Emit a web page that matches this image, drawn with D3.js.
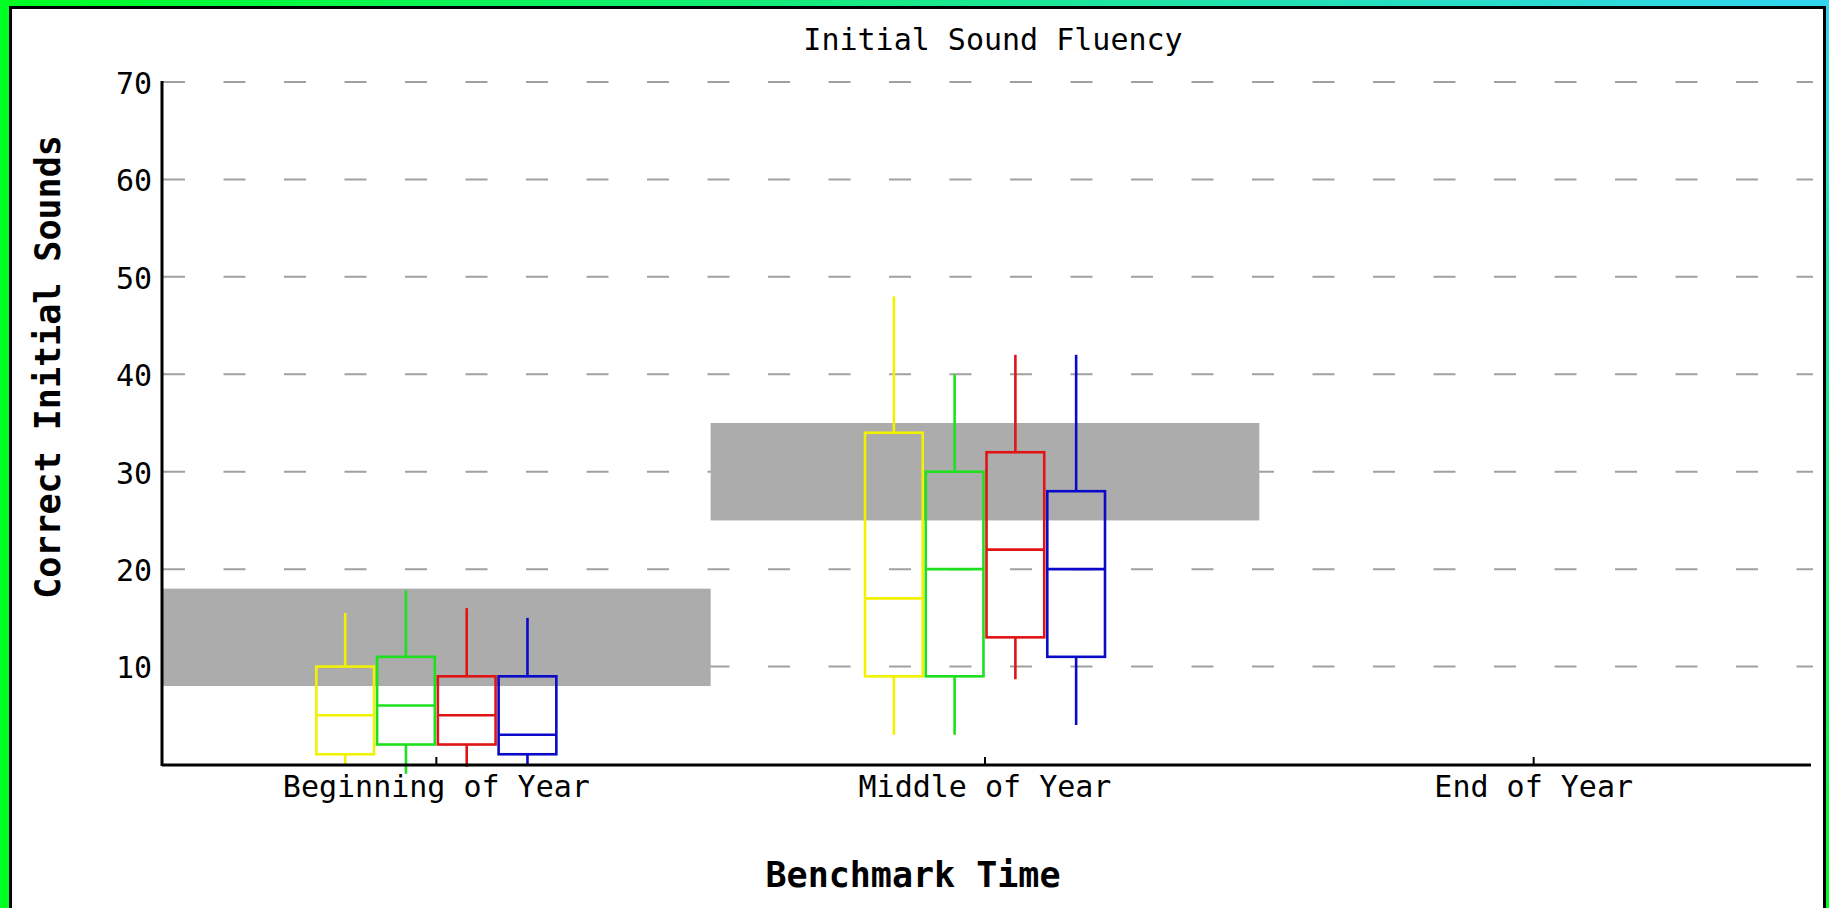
<!DOCTYPE html>
<html>
<head>
  <title>Initial Sound Fluency</title>
  <style>
    html, body {
      margin: 0;
      padding: 0;
      width: 100%;
      height: 100%;
      overflow: hidden;
      background: #fff;
    }
    .txt {
      font-family: "DejaVu Sans Mono", "Liberation Mono", monospace;
      fill: #000;
    }
  </style>
  <script src="https://d3js.org/d3.v7.min.js"></script>
</head>
<body>
  <div id="chart-container"></div>

  <script>
    // benchmark periods on the x axis
    const periods = ["Beginning of Year", "Middle of Year", "End of Year"];
    const yTicks = [10, 20, 30, 40, 50, 60, 70];

    // target range (grey band) for each period
    const targetLow = [8, 25, null];
    const targetHigh = [18, 35, null];

    // four groups, one colour each; stats are [beginning, middle, end]
    const groups = ["Group 1", "Group 2", "Group 3", "Group 4"];
    const groupColors = ["#f2f200", "#1ee01e", "#e01414", "#0a0ac8"];
    const lowValues    = [[0, 3, null],    [-1, 3, null],  [-0.3, 8.7, null], [0, 4, null]];
    const q1Values     = [[1, 9, null],    [2, 9, null],   [2, 13, null],     [1, 11, null]];
    const medianValues = [[5, 17, null],   [6, 20, null],  [5, 22, null],     [3, 20, null]];
    const q3Values     = [[10, 34, null],  [11, 30, null], [9, 32, null],     [9, 28, null]];
    const highValues   = [[15.5, 48, null],[17.8, 40, null],[16, 42, null],   [15, 42, null]];

    const width = 1829;
    const height = 908;
    const plotLeft = 162, plotRight = 1808, plotTop = 82, plotBottom = 764;

    const svg = d3.select("#chart-container")
      .append("svg")
      .attr("width", width)
      .attr("height", height);

    // gradient frame round the white panel
    const grad = svg.append("defs").append("linearGradient")
      .attr("id", "frame")
      .attr("gradientUnits", "userSpaceOnUse")
      .attr("x1", 0).attr("y1", 0)
      .attr("x2", 366).attr("y2", -732);
    grad.append("stop").attr("offset", "0%").attr("stop-color", "#00ff22");
    grad.append("stop").attr("offset", "100%").attr("stop-color", "#33d4f2");

    svg.append("rect")
      .attr("width", width).attr("height", height)
      .attr("fill", "url(#frame)");
    svg.append("rect")
      .attr("x", 10.5).attr("y", 7.5)
      .attr("width", 1814).attr("height", 920)
      .attr("fill", "#fff")
      .attr("stroke", "#000")
      .attr("stroke-width", 3);

    const x = d3.scaleBand().domain(periods).range([plotLeft, plotRight]);
    const sub = d3.scaleBand().domain(groups).range([0, 240]).paddingInner(0.05);
    const y = d3.scaleLinear().domain([0, 70]).range([plotBottom, plotTop]);

    // dashed grid lines
    svg.append("g")
      .selectAll("line")
      .data(yTicks)
      .join("line")
      .attr("x1", plotLeft + 1).attr("x2", plotRight + 5)
      .attr("y1", d => y(d)).attr("y2", d => y(d))
      .attr("stroke", "#a0a0a0")
      .attr("stroke-width", 2)
      .attr("stroke-dasharray", "22,38.5");

    // target bands
    svg.append("g")
      .selectAll("rect")
      .data(periods.filter((p, i) => targetLow[i] != null))
      .join("rect")
      .attr("x", d => x(d))
      .attr("width", x.bandwidth())
      .attr("y", d => y(targetHigh[periods.indexOf(d)]))
      .attr("height", d => y(targetLow[periods.indexOf(d)]) - y(targetHigh[periods.indexOf(d)]))
      .attr("fill", "#acacac");

    // box plots
    const boxes = [];
    groups.forEach((g, gi) => {
      periods.forEach((p, pi) => {
        if (medianValues[gi][pi] == null) return;
        boxes.push({
          group: g, period: p, color: groupColors[gi],
          low: lowValues[gi][pi], q1: q1Values[gi][pi], med: medianValues[gi][pi],
          q3: q3Values[gi][pi], high: highValues[gi][pi]
        });
      });
    });

    const boxLeft = d => x(d.period) + x.bandwidth() / 2 - 120 + sub(d.group);
    const boxMid = d => boxLeft(d) + sub.bandwidth() / 2;

    const bg = svg.append("g")
      .selectAll("g")
      .data(boxes)
      .join("g")
      .attr("stroke", d => d.color)
      .attr("stroke-width", 2.6)
      .attr("fill", "none");

    bg.append("line")
      .attr("x1", boxMid).attr("x2", boxMid)
      .attr("y1", d => y(d.high)).attr("y2", d => y(d.q3));
    bg.append("line")
      .attr("x1", boxMid).attr("x2", boxMid)
      .attr("y1", d => y(d.q1)).attr("y2", d => y(d.low));
    bg.append("rect")
      .attr("x", boxLeft)
      .attr("width", sub.bandwidth())
      .attr("y", d => y(d.q3))
      .attr("height", d => y(d.q1) - y(d.q3));
    bg.append("line")
      .attr("x1", boxLeft).attr("x2", d => boxLeft(d) + sub.bandwidth())
      .attr("y1", d => y(d.med)).attr("y2", d => y(d.med));

    // axes
    const xAxis = svg.append("g")
      .attr("transform", `translate(0,${plotBottom + 1})`)
      .call(d3.axisBottom(x).tickSize(-8).tickPadding(17));
    xAxis.select(".domain")
      .attr("d", `M${plotLeft},0H${plotRight + 3}`)
      .attr("stroke-width", 3);
    xAxis.selectAll(".tick line").attr("stroke-width", 2);
    xAxis.selectAll(".tick text")
      .attr("class", "txt")
      .attr("font-size", 30)
      .attr("dy", "0.5em");

    const yAxis = svg.append("g")
      .attr("transform", `translate(${plotLeft},0)`)
      .call(d3.axisLeft(y).tickValues(yTicks).tickSize(0).tickPadding(10));
    yAxis.select(".domain")
      .attr("d", `M0,${plotTop - 1}V${plotBottom + 2}`)
      .attr("stroke-width", 3);
    yAxis.selectAll(".tick text")
      .attr("class", "txt")
      .attr("font-size", 30)
      .attr("dy", "0.38em");

    // titles
    svg.append("text")
      .attr("class", "txt")
      .attr("x", 993).attr("y", 50)
      .attr("text-anchor", "middle")
      .attr("font-size", 30)
      .text("Initial Sound Fluency");

    svg.append("text")
      .attr("class", "txt")
      .attr("x", 913).attr("y", 887)
      .attr("text-anchor", "middle")
      .attr("font-size", 35)
      .attr("font-weight", "bold")
      .text("Benchmark Time");

    svg.append("text")
      .attr("class", "txt")
      .attr("transform", "translate(60,367) rotate(-90)")
      .attr("text-anchor", "middle")
      .attr("font-size", 35)
      .attr("font-weight", "bold")
      .text("Correct Initial Sounds");
  </script>
</body>
</html>
